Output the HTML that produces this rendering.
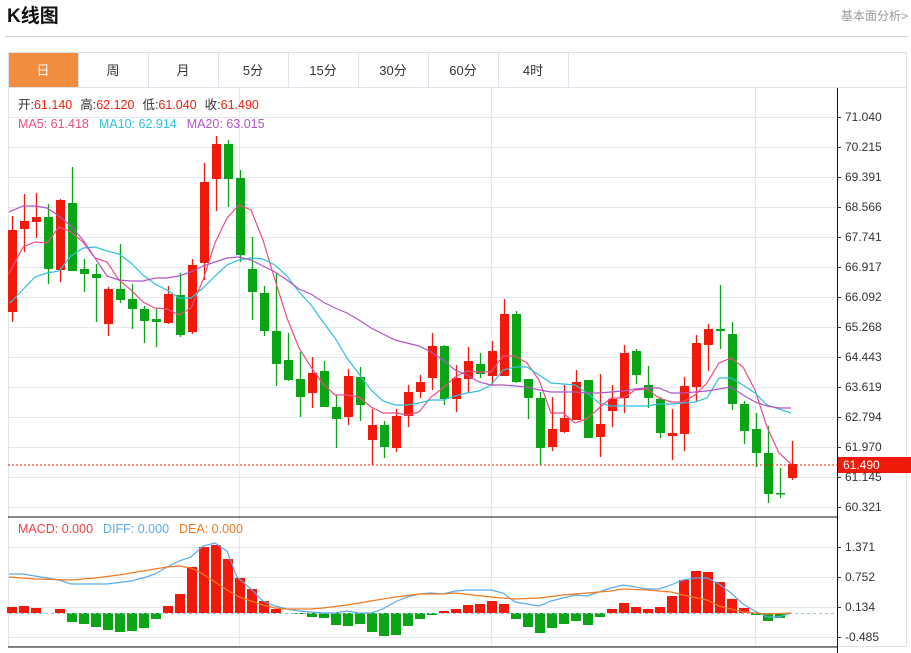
<!DOCTYPE html>
<html><head><meta charset="utf-8"><style>
body{margin:0;background:#fff;font-family:"Liberation Sans","Noto Sans CJK SC",sans-serif;}
#w{position:relative;width:911px;height:653px;overflow:hidden}
</style></head><body><div id="w">
<svg id="s" width="911" height="653" xmlns="http://www.w3.org/2000/svg" font-family="Liberation Sans, Noto Sans CJK SC, sans-serif">
<text x="7" y="22" font-size="19" font-weight="bold" fill="#111">K线图</text>
<text x="908" y="20" font-size="12" fill="#999" text-anchor="end">基本面分析&gt;</text>
<line x1="5" y1="36.5" x2="908" y2="36.5" stroke="#ccc"/>
<rect x="8.5" y="52.5" width="898" height="594" fill="none" stroke="#dde3ea"/>
<line x1="8" y1="87.5" x2="906" y2="87.5" stroke="#dde3ea"/>
<rect x="9" y="53" width="69" height="34" fill="#f28c3e"/>
<g font-size="13" fill="#333" text-anchor="middle">
<text x="43" y="75" fill="#fff">日</text><text x="113" y="75">周</text><text x="183" y="75">月</text><text x="253" y="75">5分</text><text x="323" y="75">15分</text><text x="393" y="75">30分</text><text x="463" y="75">60分</text><text x="533" y="75">4时</text>
</g>
<g stroke="#dde3ea"><line x1="78.5" y1="53" x2="78.5" y2="87"/><line x1="148.5" y1="53" x2="148.5" y2="87"/><line x1="218.5" y1="53" x2="218.5" y2="87"/><line x1="288.5" y1="53" x2="288.5" y2="87"/><line x1="358.5" y1="53" x2="358.5" y2="87"/><line x1="428.5" y1="53" x2="428.5" y2="87"/><line x1="498.5" y1="53" x2="498.5" y2="87"/><line x1="568.5" y1="53" x2="568.5" y2="87"/></g>
<g id="grid"></g>
<g id="cd"></g>
<g id="ln" fill="none"></g>
<line x1="8" y1="517" x2="837" y2="517" stroke="#111"/>
<line x1="8" y1="647" x2="837" y2="647" stroke="#111"/>
<line x1="837.5" y1="88" x2="837.5" y2="653" stroke="#111"/>
<line x1="8" y1="465" x2="837" y2="465" stroke="#f01e0a" stroke-dasharray="2,2"/>
<rect x="838" y="457" width="73" height="16" fill="#ee1a0a"/>
<text x="843" y="469" font-size="12" fill="#fff">61.490</text>
<g id="ax" font-size="12" fill="#333"></g>
<g font-size="12.5">
<text x="18" y="109"><tspan fill="#333">开:</tspan><tspan fill="#f01e0a">61.140</tspan><tspan fill="#333" dx="8">高:</tspan><tspan fill="#f01e0a">62.120</tspan><tspan fill="#333" dx="8">低:</tspan><tspan fill="#f01e0a">61.040</tspan><tspan fill="#333" dx="8">收:</tspan><tspan fill="#f01e0a">61.490</tspan></text>
<text x="18" y="128"><tspan fill="#ec4d85">MA5: 61.418</tspan><tspan fill="#2fc1dc" dx="10">MA10: 62.914</tspan><tspan fill="#b056c8" dx="10">MA20: 63.015</tspan></text>
<text x="18" y="533"><tspan fill="#f04040">MACD: 0.000</tspan><tspan fill="#5aaaf0" dx="10">DIFF: 0.000</tspan><tspan fill="#f07a20" dx="10">DEA: 0.000</tspan></text>
</g>
</svg></div>
<script>
var NS="http://www.w3.org/2000/svg";
function el(p,t,a){var e=document.createElementNS(NS,t);for(var k in a)e.setAttribute(k,a[k]);document.getElementById(p).appendChild(e);return e;}
// grid
for(var y=117;y<=507;y+=30)el("grid","line",{x1:9,x2:837,y1:y+.5,y2:y+.5,stroke:"#e3e9ef"});
[547,577,607,637].forEach(function(y){el("grid","line",{x1:9,x2:837,y1:y+.5,y2:y+.5,stroke:"#e3e9ef"});});
[239,491,755].forEach(function(x){el("grid","line",{x1:x+.5,x2:x+.5,y1:88,y2:647,stroke:"#e3e9ef"});});
// axis labels
var L=["71.040","70.215","69.391","68.566","67.741","66.917","66.092","65.268","64.443","63.619","62.794","61.970","61.145","60.321"];
L.forEach(function(t,i){var y=117+i*30;el("ax","line",{x1:837,x2:841,y1:y+.5,y2:y+.5,stroke:"#333"});if(i!=12||true){var tx=el("ax","text",{x:845,y:y+4});tx.textContent=t;}});
[["1.371",547],["0.752",577],["0.134",607],["-0.485",637]].forEach(function(a){el("ax","line",{x1:837,x2:841,y1:a[1]+.5,y2:a[1]+.5,stroke:"#333"});var tx=el("ax","text",{x:845,y:a[1]+4});tx.textContent=a[0];});
// candles: color, bodyTop, bodyBottom, wickTop, wickBottom
var C=[["r",230,312,216,322],["r",221,229,194,252],["r",217,222,193,238],["g",217,269,204,284],["r",200,270,199,282],["g",203,271,167,271],["g",269,274,259,292],["g",274,278,264,322],["r",289,324,287,336],["g",289,300,244,303],["g",299,309,284,329],["g",309,321,306,343],["g",319,322,308,347],["r",294,323,286,324],["g",295,335,273,337],["r",265,332,259,334],["r",182,263,163,280],["r",144,179,136,211],["g",144,179,140,207],["g",178,255,170,262],["g",269,292,237,320],["g",293,331,286,336],["g",331,364,273,386],["g",360,380,333,381],["g",379,397,352,417],["r",373,393,357,408],["g",371,407,361,407],["g",407,419,395,448],["r",376,417,369,425],["g",377,405,367,421],["r",425,440,409,465],["g",425,447,421,458],["r",416,448,409,452],["r",392,416,385,427],["r",382,392,375,398],["r",346,378,333,390],["g",346,399,345,405],["r",378,399,365,412],["r",361,379,347,393],["g",364,374,353,378],["r",351,376,341,385],["r",314,376,299,376],["g",314,382,311,383],["g",379,398,379,419],["g",398,448,392,465],["r",429,447,397,451],["r",418,432,385,433],["r",382,420,370,420],["g",380,438,380,438],["r",424,437,374,457],["r",399,411,385,427],["r",353,398,345,413],["g",351,375,349,384],["g",385,398,366,408],["g",399,433,397,438],["r",433,436,409,460],["r",386,434,377,451],["r",343,387,335,401],["r",329,345,324,371],["g",329,331,285,349],["g",334,404,322,410],["g",404,431,401,444],["g",429,453,413,467],["g",453,494,426,503],["g",493,494,468,498],["r",464,478,441,480]];
C.forEach(function(c,i){var x=12+12*i,col=c[0]=="r"?"#f0190a":"#0aa514";
el("cd","line",{x1:x+.5,x2:x+.5,y1:c[3],y2:c[4],stroke:col,"stroke-width":1.3});
el("cd","rect",{x:x-4,y:c[1],width:9,height:Math.max(1.5,c[2]-c[1]),fill:col});});
function pl(pts,col){var s=[];for(var i=0;i<pts.length;i+=2)s.push(pts[i]+","+pts[i+1]);el("ln","polyline",{points:s.join(" "),stroke:col,"stroke-width":1.2});}
pl([9,274,12,268,23,247,35,242,47,243,59,227,71,232,83,242,95,258,107,262,119,280,131,290,143,302,155,308,167,309,179,315,191,308,203,280,215,243,227,218,239,205,251,210,263,240,275,280,287,318,299,348,311,367,323,384,335,395,347,395,359,397,371,407,383,413,395,413,407,415,419,412,431,397,443,388,455,377,467,371,479,372,491,372,503,356,515,356,527,363,539,380,551,413,563,413,575,423,587,419,599,408,611,398,623,398,635,390,647,389,659,398,671,402,683,402,695,395,707,383,719,363,731,358,743,367,755,390,767,427,779,453,791,464],"#ec4d85");
pl([9,303,12,301,35,277,47,273,59,271,71,256,83,248,95,247,107,251,119,254,131,263,143,275,155,284,167,290,179,298,191,298,203,288,215,276,227,265,239,260,251,258,263,259,275,265,287,276,299,292,311,305,323,322,335,338,347,358,359,374,371,390,383,401,395,405,407,405,419,403,431,400,443,400,455,396,467,393,479,391,491,385,503,370,515,367,527,367,539,375,551,383,563,384,575,385,587,393,599,403,611,406,623,406,635,406,647,406,659,404,671,404,683,403,695,402,707,398,719,378,731,378,743,385,755,393,767,405,779,409,791,413],"#2fc1dc");
pl([9,212,23,206,35,206,47,208,59,216,71,226,83,240,95,258,107,276,119,280,131,281,143,281,155,278,167,278,179,276,191,272,203,266,215,262,227,258,239,257,251,260,263,266,275,272,287,280,299,289,311,294,323,302,335,308,347,313,359,320,371,328,383,334,395,340,407,343,419,346,431,352,443,360,455,370,467,375,479,382,491,385,503,385,515,386,527,387,539,390,551,392,563,392,575,392,587,393,599,393,611,392,623,391,635,389,647,388,659,388,671,393,683,393,695,392,707,391,719,389,731,387,743,395,755,402,767,406,779,408,791,408],"#b056c8");
// MACD
el("ln","line",{x1:9,x2:837,y1:613.5,y2:613.5,stroke:"#8cc8e0","stroke-dasharray":"3,3"});
var M=[607,606,608,613,609,622,624,627,630,632,631,628,619,606,594,567,547,545,559,578,589,601,609,613,614,617,618,625,626,624,632,636,635,626,619,615,611,609,605,604,601,604,619,627,633,628,624,621,625,617,609,603,607,609,607,596,580,571,572,582,599,608,615,621,618,613];
M.forEach(function(v,i){var x=12+12*i;if(Math.abs(v-613)<1)return;var up=v<613;el("cd","rect",{x:x-5,y:up?v:613,width:10,height:Math.abs(v-613),fill:up?"#f0190a":"#0aa514"});});
pl([9,574,23,574,47,578,59,580,71,584,107,584,131,581,143,578,155,574,167,567,179,561,191,557,203,546,215,543,227,551,237,577,251,589,263,601,275,606,287,609,299,611,311,612,323,613,335,613,347,611,359,613,371,613,383,609,395,602,407,597,419,594,431,593,443,594,455,591,467,590,491,590,503,593,515,602,539,606,551,601,563,598,575,595,587,596,599,592,611,588,623,585,635,587,647,589,659,589,671,585,683,580,695,578,707,578,719,584,731,593,743,604,755,611,767,617,779,617,791,613],"#5aaaf0");
pl([9,577,35,579,71,580,95,578,119,575,143,571,155,569,167,567,179,566,191,568,203,574,215,582,227,590,239,597,251,601,263,605,275,608,287,609,311,609,323,608,347,605,371,601,395,597,419,594,443,594,455,593,491,597,515,599,539,598,563,595,587,593,611,591,623,589,647,590,671,592,683,595,707,600,719,606,743,612,767,614,791,613],"#f07a20");
</script>
</body></html>
